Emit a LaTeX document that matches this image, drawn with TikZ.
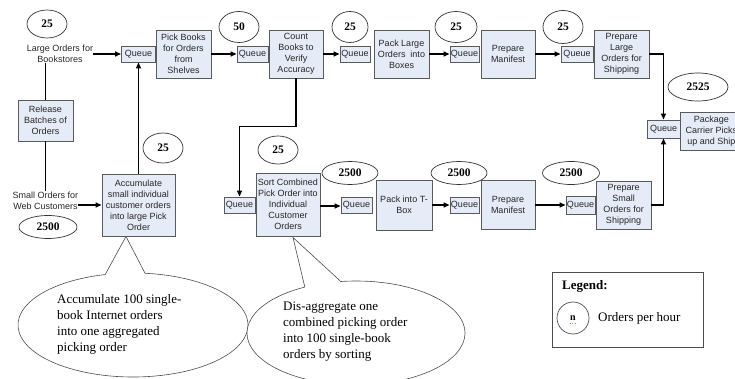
\documentclass[tikz,border=0pt]{standalone}
\usepackage{fontspec}
\setmainfont{Liberation Serif}
\newfontfamily\arialfont{Liberation Sans}
\usetikzlibrary{arrows.meta,calc,shapes.geometric}
\definecolor{boxfill}{RGB}{230,236,247}
\definecolor{boxline}{RGB}{90,90,90}
\definecolor{squig}{RGB}{90,170,90}
\begin{document}
\begin{tikzpicture}[x=1pt,y=1pt,
  box/.style={draw=boxline, fill=boxfill, line width=0.9pt,
    font=\arialfont\fontsize{9}{11}\selectfont, align=center, inner sep=1pt, text=black!85},
  queue/.style={box, minimum height=16pt, minimum width=30pt},
  lbl/.style={font=\arialfont\fontsize{9}{11}\selectfont, align=center, inner sep=0pt, text=black!85},
  num/.style={draw=black!80, ellipse, fill=white, line width=0.7pt, inner sep=0pt,
    font=\fontsize{11.5}{13}\selectfont\bfseries},
  conn/.style={line width=1.5pt, -{Triangle[length=6pt,width=5pt]}},
  plain/.style={line width=1.5pt},
  callout/.style={draw=black!70, line width=0.6pt, fill=white},
  ctext/.style={font=\fontsize{13}{16}\selectfont, align=left, inner sep=0pt, anchor=west}
]
\useasboundingbox (0,0) rectangle (735,-379);
\clip (0,0) rectangle (735,-379);

% ---------- top row ----------
\node[lbl] (large) at (60,-54) {Large Orders for\\Bookstores};
\node[queue, minimum width=34pt] (q1) at (138.5,-54) {Queue};
\node[box, minimum width=55pt, minimum height=48pt] (pick) at (183.5,-54) {Pick Books\\for Orders\\from\\Shelves};
\node[queue, minimum width=31pt] (q2) at (252.5,-54) {Queue};
\node[box, minimum width=54pt, minimum height=48pt] (count) at (296,-54) {Count\\Books to\\Verify\\Accuracy};
\node[queue, minimum width=30pt] (q3) at (355,-54) {Queue};
\node[box, minimum width=55pt, minimum height=48pt] (pack) at (401.5,-54) {Pack Large\\Orders\ \ into\\Boxes};
\node[queue, minimum width=29pt] (q4) at (464.5,-54) {Queue};
\node[box, minimum width=54pt, minimum height=48pt] (man1) at (508,-54) {Prepare\\Manifest};
\node[queue, minimum width=32pt] (q5) at (577,-54) {Queue};
\node[box, minimum width=55pt, minimum height=48pt] (plarge) at (621.5,-54) {Prepare\\Large\\Orders for\\Shipping};

\node[queue, minimum width=33pt, minimum height=18pt] (q6) at (663.5,-129) {Queue};
\node[box, minimum width=62pt, minimum height=38pt, anchor=west] (pkg) at (680,-131) {Package\\Carrier Picks\\up and Ship};

% ---------- left side ----------
\node[box, minimum width=55pt, minimum height=41pt] (release) at (45.5,-120.5) {Release\\Batches of\\Orders};
\node[lbl] (small) at (45.5,-200.5) {Small Orders for\\Web Customers};
\node[box, minimum width=73pt, minimum height=62pt] (acc) at (138.5,-205) {Accumulate\\small individual\\customer orders\\into large Pick\\Order};

% ---------- bottom row ----------
\node[queue, minimum width=31pt] (q7) at (239.5,-205) {Queue};
\node[box, minimum width=64pt, minimum height=63pt] (sort) at (288,-204.5) {Sort Combined\\Pick Order into\\Individual\\Customer\\Orders};
\node[queue, minimum width=31pt] (q8) at (356.5,-205) {Queue};
\node[box, minimum width=56pt, minimum height=50pt] (tbox) at (404,-205) {Pack into T-\\Box};
\node[queue, minimum width=29pt] (q9) at (464.5,-205) {Queue};
\node[box, minimum width=54pt, minimum height=49pt] (man2) at (508,-205) {Prepare\\Manifest};
\node[queue, minimum width=29pt, minimum height=18pt] (q10) at (580.5,-205) {Queue};
\node[box, minimum width=55pt, minimum height=48pt] (psmall) at (623.5,-205) {Prepare\\Small\\Orders for\\Shipping};

% ---------- rate ellipses ----------
\node[num, minimum width=40pt, minimum height=28pt] (e1) at (47,-24) {25};
\node[num, minimum width=40pt, minimum height=31pt] (e2) at (239,-27) {50};
\node[num, minimum width=36pt, minimum height=31pt] (e3) at (350,-27) {25};
\node[num, minimum width=42pt, minimum height=31pt] (e4) at (456,-27) {25};
\node[num, minimum width=40pt, minimum height=33pt] (e5) at (563,-27) {25};
\node[num, minimum width=60pt, minimum height=28pt] (e6) at (698,-87) {2525};
\node[num, minimum width=40pt, minimum height=30pt] (e7) at (163,-148) {25};
\node[num, minimum width=58pt, minimum height=23pt] (e8) at (48,-227) {2500};
\node[num, minimum width=40pt, minimum height=28pt] (e9) at (278,-150) {25};
\node[num, minimum width=56pt, minimum height=23pt] (e10) at (350,-173) {2500};
\node[num, minimum width=56pt, minimum height=23pt] (e11) at (459,-173) {2500};
\node[num, minimum width=57pt, minimum height=23pt] (e12) at (571,-173) {2500};

% ---------- connectors ----------
\draw[conn] (large.east |- q1.west) -- (q1.west);
\draw[plain] (release.north) -- (release.north |- large.south);
\draw[plain] (release.south) -- (release.south |- small.north);
\draw[conn] (small.east |- acc.west) -- (acc.west);
\draw[conn] (acc.north) -- (q1.south);
\draw[conn] (pick.east) -- (q2.west);
\draw[conn] (count.east) -- (q3.west);
\draw[conn] (pack.east) -- (q4.west);
\draw[conn] (man1.east) -- (q5.west);
\draw[conn] (plarge.east) -| (q6.north);
\draw[conn] (psmall.east) -| (q6.south);
\coordinate (bend) at ($(count.south)+(0,-48)$);
\draw[conn] (count.south) -- (bend) -| (q7.north);
\draw[conn] (sort.east |- 0,-206) -- (q8.west |- 0,-206);
\draw[conn] (tbox.east) -- (q9.west);
\draw[conn] (man2.east) -- (q10.west);

% ---------- callouts ----------
\coordinate (ap1) at (126,-236.5);
\coordinate (c1) at (133,-325);
\draw[callout] (ap1) -- ($(c1)+({115*cos(104)},{52*sin(104)})$)
  arc[start angle=104, end angle=444, x radius=115pt, y radius=52pt] -- cycle;
\node[ctext] (t1) at (57,-324) {Accumulate 100 single-\\book Internet orders\\into one aggregated\\picking order};

\coordinate (ap2) at (293,-237.5);
\coordinate (c2) at (356,-333);
\draw[callout] (ap2) -- ($(c2)+({109*cos(118)},{52*sin(118)})$)
  arc[start angle=118, end angle=458, x radius=109pt, y radius=52pt] -- cycle;
\node[ctext] (t2) at (283,-331.5) {Dis-aggregate one\\combined picking order\\into 100 single-book\\orders by sorting};

% ---------- legend ----------
\node[draw=black!70, line width=0.8pt, minimum width=151pt, minimum height=75pt, inner sep=0pt] (legend) at (627.5,-309.5) {};
\node[font=\fontsize{13}{15}\selectfont\bfseries, anchor=west, inner sep=0pt] (legt) at (562,-286) {Legend:};
\node[draw=black!70, circle, line width=0.7pt, minimum size=32pt, inner sep=0pt, font=\fontsize{10}{12}\selectfont\bfseries] (legc) at (573,-318) {n};
\draw[squig, line width=0.6pt, dotted] ($(legc.center)+(-3.5,-5)$) -- ($(legc.center)+(3.5,-5)$);
\node[font=\fontsize{13}{15}\selectfont, anchor=west, inner sep=0pt] (legn) at (598,-318) {Orders per hour};
\end{tikzpicture}
\end{document}
